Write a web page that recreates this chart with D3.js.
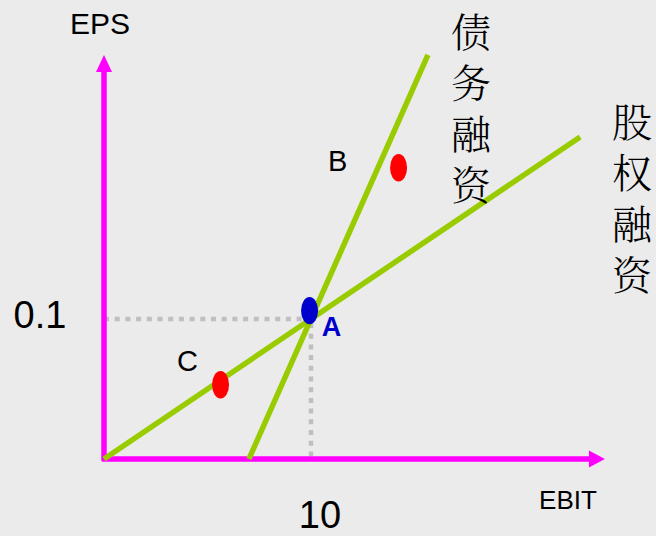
<!DOCTYPE html>
<html>
<head>
<meta charset="utf-8">
<script src="https://cdn.jsdelivr.net/npm/d3@7"></script>
<style>
  body { margin: 0; background: #ebebeb; }
  svg { display: block; }
  text { font-family: "Liberation Sans", Arial, sans-serif; }
  .cjk { font-family: "Noto Serif CJK SC", "Noto Sans CJK SC", serif; font-weight: 300; writing-mode: vertical-rl; }
</style>
</head>
<body>
<div id="chart"></div>
<script>
// chart values (EBIT on x, EPS on y)
var xTicks = [10];
var yTicks = [0.1];
var equityX = [0, 23];          // 股权融资
var equityY = [0, 0.23];
var debtX = [7, 15.65];         // 债务融资
var debtY = [0, 0.2886];
var pointNames = ["A", "B", "C"];
var pointX = [9.93, 14.23, 5.63];
var pointY = [0.106, 0.208, 0.053];
var axisMaxX = 24.2;
var axisMaxY = 0.2886;

var svgWidth = 656;
var svgHeight = 536;

var svg = d3.select("#chart")
    .append("svg")
    .attr("width", svgWidth)
    .attr("height", svgHeight);

svg.append("rect")
    .attr("width", svgWidth)
    .attr("height", svgHeight)
    .attr("fill", "#ebebeb");

// scales: origin at (104, 459)
var xScale = d3.scaleLinear().domain([0, 10]).range([104, 311]);
var yScale = d3.scaleLinear().domain([0, 0.1]).range([459, 319]);

var magenta = "#ff00ff";
var green = "#99cc00";

// dotted guide lines to A
svg.append("line")
    .attr("x1", xScale(0)).attr("y1", yScale(yTicks[0]))
    .attr("x2", xScale(xTicks[0]) - 2).attr("y2", yScale(yTicks[0]))
    .attr("stroke", "#bfbfbf")
    .attr("stroke-width", 4.5)
    .attr("stroke-dasharray", "5,5.7");

svg.append("line")
    .attr("x1", xScale(xTicks[0])).attr("y1", yScale(yTicks[0]) + 4)
    .attr("x2", xScale(xTicks[0])).attr("y2", yScale(0) + 2)
    .attr("stroke", "#bfbfbf")
    .attr("stroke-width", 4.5)
    .attr("stroke-dasharray", "5,5.7");

// axes
var x0 = xScale(0), y0 = yScale(0);
var xEnd = xScale(axisMaxX), yEnd = yScale(axisMaxY);

svg.append("line")
    .attr("x1", x0).attr("y1", y0 + 2)
    .attr("x2", x0).attr("y2", yEnd + 16)
    .attr("stroke", magenta)
    .attr("stroke-width", 5.5);

svg.append("path")
    .attr("d", `M${x0 - 8},${yEnd + 17} L${x0 + 8},${yEnd + 17} L${x0},${yEnd} Z`)
    .attr("fill", magenta);

svg.append("line")
    .attr("x1", x0 - 2).attr("y1", y0)
    .attr("x2", xEnd - 15).attr("y2", y0)
    .attr("stroke", magenta)
    .attr("stroke-width", 5.5);

svg.append("path")
    .attr("d", `M${xEnd - 16},${y0 - 8.5} L${xEnd - 16},${y0 + 8.5} L${xEnd},${y0} Z`)
    .attr("fill", magenta);

// financing lines
var line = d3.line()
    .x(d => xScale(d[0]))
    .y(d => yScale(d[1]));

svg.append("path")
    .datum(d3.zip(equityX, equityY))
    .attr("d", line)
    .attr("fill", "none")
    .attr("stroke", green)
    .attr("stroke-width", 5.5);

svg.append("path")
    .datum(d3.zip(debtX, debtY))
    .attr("d", line)
    .attr("fill", "none")
    .attr("stroke", green)
    .attr("stroke-width", 5.5);

// points
var points = pointNames.map((n, i) => ({ name: n, x: pointX[i], y: pointY[i] }));

svg.selectAll("ellipse")
    .data(points)
    .enter()
    .append("ellipse")
    .attr("cx", d => xScale(d.x))
    .attr("cy", d => yScale(d.y))
    .attr("rx", 8.5)
    .attr("ry", 13.7)
    .attr("fill", d => d.name === "A" ? "#0000cc" : "#ff0000");

// point labels
svg.append("text")
    .attr("x", xScale(pointX[0]) + 22)
    .attr("y", yScale(pointY[0]) + 25)
    .attr("text-anchor", "middle")
    .attr("font-size", 27)
    .attr("font-weight", "bold")
    .attr("fill", "#0000cc")
    .text("A");

svg.append("text")
    .attr("x", xScale(pointX[1]) - 61)
    .attr("y", yScale(pointY[1]) + 3)
    .attr("text-anchor", "middle")
    .attr("font-size", 29)
    .attr("fill", "#000")
    .text("B");

svg.append("text")
    .attr("x", xScale(pointX[2]) - 33)
    .attr("y", yScale(pointY[2]) - 14)
    .attr("text-anchor", "middle")
    .attr("font-size", 29)
    .attr("fill", "#000")
    .text("C");

// axis titles
svg.append("text")
    .attr("x", 100).attr("y", 34)
    .attr("text-anchor", "middle")
    .attr("font-size", 30)
    .attr("fill", "#000")
    .text("EPS");

svg.append("text")
    .attr("x", 568).attr("y", 509)
    .attr("text-anchor", "middle")
    .attr("font-size", 26)
    .attr("fill", "#000")
    .text("EBIT");

// tick labels
svg.selectAll(".xtick")
    .data(xTicks)
    .enter()
    .append("text")
    .attr("class", "xtick")
    .attr("x", d => xScale(d) + 9)
    .attr("y", 528)
    .attr("text-anchor", "middle")
    .attr("font-size", 38)
    .attr("fill", "#000")
    .text(d => d);

svg.selectAll(".ytick")
    .data(yTicks)
    .enter()
    .append("text")
    .attr("class", "ytick")
    .attr("x", 40)
    .attr("y", d => yScale(d) + 9)
    .attr("text-anchor", "middle")
    .attr("font-size", 38)
    .attr("fill", "#000")
    .text(d => d);

// vertical chinese labels, one text each
function vertical(str, cx, top) {
    svg.append("text")
        .attr("class", "cjk")
        .attr("x", cx)
        .attr("y", top)
        .attr("font-size", 40)
        .attr("letter-spacing", 11)
        .attr("fill", "#000")
        .text(str);
}
vertical("债务融资", 471, 11.5);
vertical("股权融资", 632, 102);
</script>
</body>
</html>
